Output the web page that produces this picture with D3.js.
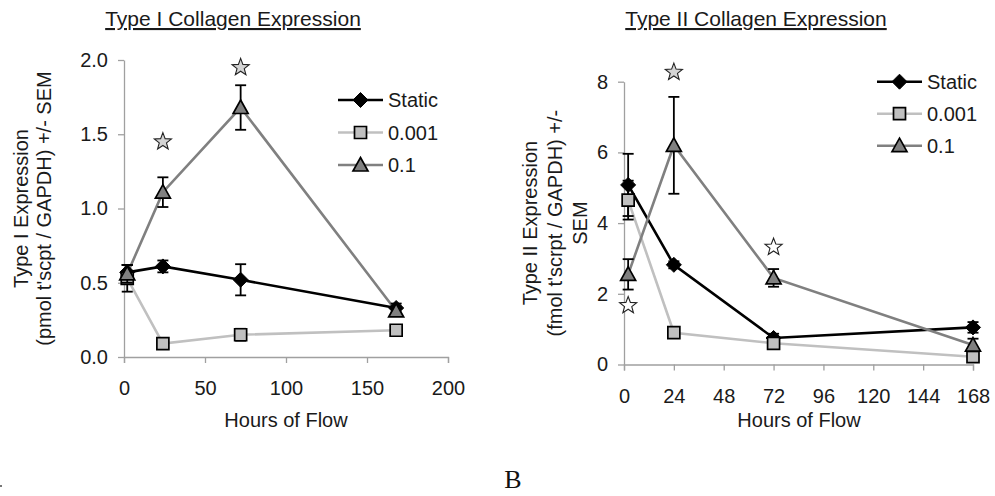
<!DOCTYPE html>
<html>
<head>
<meta charset="utf-8">
<script src="https://cdn.jsdelivr.net/npm/d3@7"></script>
<style>
  body { margin: 0; background: #fff; }
  svg { display: block; font-family: "Liberation Sans", Arial, sans-serif; }
  .axis path, .axis line { stroke: #a0a0a0; stroke-width: 1.3; }
  .axis text { fill: #1a1a1a; font-size: 20px; font-family: "Liberation Sans", Arial, sans-serif; }
</style>
</head>
<body>
<script>
// hours of flow for every series
var hours = [2, 24, 72, 168];
var seriesNames = ["Static", "0.001", "0.1"];

// type I collagen (pmol t'scpt / GAPDH)
var staticI = [0.57, 0.61, 0.52, 0.33];
var staticIErr = [0.05, 0.04, 0.105, 0.03];
var lowI = [0.53, 0.09, 0.15, 0.18];
var lowIErr = [0.09, 0.02, 0.04, 0.03];
var highI = [0.56, 1.11, 1.68, 0.31];
var highIErr = [0.06, 0.10, 0.15, 0.03];
var starsIHours = [24, 72];
var starsIValue = [1.45, 1.95];
var starsIFill = ["#d4d4d4", "#d4d4d4"];

// type II collagen (fmol t'scrpt / GAPDH)
var staticII = [5.08, 2.82, 0.75, 1.05];
var staticIIErr = [0.88, 0.10, 0.12, 0.15];
var lowII = [4.65, 0.90, 0.60, 0.22];
var lowIIErr = [0.55, 0.08, 0.10, 0.08];
var highII = [2.55, 6.20, 2.45, 0.55];
var highIIErr = [0.43, 1.37, 0.25, 0.18];
var starsIIHours = [2, 24, 72];
var starsIIValue = [1.67, 8.27, 3.32];
var starsIIFill = ["#ffffff", "#d4d4d4", "#ffffff"];

var xTicksI = [0, 50, 100, 150, 200];
var yTicksI = [0, 0.5, 1.0, 1.5, 2.0];
var xTicksII = [0, 24, 48, 72, 96, 120, 144, 168];
var yTicksII = [0, 2, 4, 6, 8];

var lineColors = ["#000000", "#c0c0c0", "#808080"];
var markerFills = ["#000000", "#c0c0c0", "#808080"];

var svg = d3.select("body").append("svg")
    .attr("width", 995)
    .attr("height", 496);

// marker shapes drawn round (0,0)
function markerPath(i) {
    if (i == 0) return "M0,-7.5L7.5,0L0,7.5L-7.5,0Z";
    if (i == 1) return "M-6,-6H6V6H-6Z";
    return "M0,-7.5L7.5,6H-7.5Z";
}

function starPath(ro, ri) {
    var p = [];
    for (var k = 0; k < 10; k++) {
        var r = k % 2 == 0 ? ro : ri;
        var a = -Math.PI / 2 + k * Math.PI / 5;
        p.push([r * Math.cos(a), r * Math.sin(a)]);
    }
    return "M" + p.join("L") + "Z";
}

function drawPanel(opt) {
    var x = d3.scaleLinear().domain(opt.xDomain).range(opt.xRange);
    var y = d3.scaleLinear().domain(opt.yDomain).range(opt.yRange);
    var g = svg.append("g");

    // title with underline
    g.append("text")
        .attr("x", opt.titleX)
        .attr("y", 26)
        .attr("text-anchor", "middle")
        .style("font-size", "21px")
        .style("fill", "#1a1a1a")
        .style("text-decoration", "underline")
        .text(opt.title);

    // axes
    g.append("g")
        .attr("class", "axis")
        .attr("transform", "translate(0," + opt.yRange[0] + ")")
        .call(d3.axisBottom(x).tickValues(opt.xTicks).tickSize(6).tickSizeOuter(6).tickPadding(18));
    g.append("g")
        .attr("class", "axis")
        .attr("transform", "translate(" + opt.xRange[0] + ",0)")
        .call(d3.axisLeft(y).tickValues(opt.yTicks).tickFormat(opt.yFormat).tickSize(6).tickSizeOuter(0).tickPadding(10));

    // x axis title
    g.append("text")
        .attr("x", opt.xTitleX)
        .attr("y", 426.5)
        .attr("text-anchor", "middle")
        .style("font-size", "20px")
        .style("fill", "#1a1a1a")
        .text("Hours of Flow");

    // y axis title lines
    var cy = (opt.yRange[0] + opt.yRange[1]) / 2;
    opt.yTitle.forEach(function(t, i) {
        g.append("text")
            .attr("transform", "translate(" + (opt.yTitleX + i * opt.yTitleGap) + "," + cy + ") rotate(-90)")
            .attr("text-anchor", "middle")
            .style("font-size", "20px")
            .style("fill", "#1a1a1a")
            .text(t);
    });

    var line = d3.line()
        .x(function(d, i) { return x(hours[i]); })
        .y(function(d) { return y(d); });

    opt.series.forEach(function(vals, s) {
        g.append("path")
            .datum(vals)
            .attr("fill", "none")
            .attr("stroke", lineColors[s])
            .attr("stroke-width", 2.6)
            .attr("d", line);
    });

    opt.series.forEach(function(vals, s) {
        var errs = opt.errors[s];
        var eb = g.selectAll(null)
            .data(vals)
            .enter().append("g")
            .attr("stroke", "#000")
            .attr("stroke-width", 1.8);
        eb.append("line")
            .attr("x1", function(d, i) { return x(hours[i]); })
            .attr("x2", function(d, i) { return x(hours[i]); })
            .attr("y1", function(d, i) { return y(d - errs[i]); })
            .attr("y2", function(d, i) { return y(d + errs[i]); });
        [-1, 1].forEach(function(sign) {
            eb.append("line")
                .attr("x1", function(d, i) { return x(hours[i]) - 5.5; })
                .attr("x2", function(d, i) { return x(hours[i]) + 5.5; })
                .attr("y1", function(d, i) { return y(d + sign * errs[i]); })
                .attr("y2", function(d, i) { return y(d + sign * errs[i]); });
        });
        g.selectAll(null)
            .data(vals)
            .enter().append("path")
            .attr("transform", function(d, i) { return "translate(" + x(hours[i]) + "," + y(d) + ")"; })
            .attr("d", markerPath(s))
            .attr("fill", markerFills[s])
            .attr("stroke", "#000")
            .attr("stroke-width", s == 0 ? 1 : 1.7);
    });

    // significance stars
    g.selectAll(null)
        .data(opt.starValues)
        .enter().append("path")
        .attr("transform", function(d, i) { return "translate(" + x(opt.starHours[i]) + "," + y(d) + ")"; })
        .attr("d", starPath(9, 3.8))
        .attr("fill", function(d, i) { return opt.starFills[i]; })
        .attr("stroke", "#222")
        .attr("stroke-width", 1.1);

    // legend
    seriesNames.forEach(function(name, s) {
        var ly = opt.legendY + s * opt.legendGap;
        g.append("line")
            .attr("x1", opt.legendX)
            .attr("x2", opt.legendX + 45)
            .attr("y1", ly)
            .attr("y2", ly)
            .attr("stroke", lineColors[s])
            .attr("stroke-width", 2.6);
        g.append("path")
            .attr("transform", "translate(" + (opt.legendX + 22.5) + "," + ly + ")")
            .attr("d", markerPath(s))
            .attr("fill", markerFills[s])
            .attr("stroke", "#000")
            .attr("stroke-width", s == 0 ? 1 : 1.7);
        g.append("text")
            .attr("x", opt.legendX + 50)
            .attr("y", ly)
            .attr("dy", "0.35em")
            .style("font-size", "20px")
            .style("fill", "#1a1a1a")
            .text(name);
    });
}

drawPanel({
    title: "Type I Collagen Expression",
    titleX: 233,
    xDomain: [0, 200], xRange: [124, 448],
    yDomain: [0, 2], yRange: [357, 60],
    xTicks: xTicksI, yTicks: yTicksI, yFormat: d3.format(".1f"),
    xTitleX: 286,
    yTitle: ["Type I Expression", "(pmol t'scpt / GAPDH) +/- SEM"],
    yTitleX: 28, yTitleGap: 23,
    series: [staticI, lowI, highI],
    errors: [staticIErr, lowIErr, highIErr],
    starHours: starsIHours, starValues: starsIValue, starFills: starsIFill,
    legendX: 338, legendY: 100, legendGap: 32.5
});

drawPanel({
    title: "Type II Collagen Expression",
    titleX: 756,
    xDomain: [0, 168], xRange: [624, 973],
    yDomain: [0, 8], yRange: [364.5, 81.7],
    xTicks: xTicksII, yTicks: yTicksII, yFormat: d3.format("d"),
    xTitleX: 799,
    yTitle: ["Type II Expression", "(fmol t'scrpt / GAPDH) +/-", "SEM"],
    yTitleX: 537, yTitleGap: 25,
    series: [staticII, lowII, highII],
    errors: [staticIIErr, lowIIErr, highIIErr],
    starHours: starsIIHours, starValues: starsIIValue, starFills: starsIIFill,
    legendX: 877, legendY: 81.7, legendGap: 32
});

// panel letter and the cut-off mark at the lower left
svg.append("text")
    .attr("x", 513)
    .attr("y", 488)
    .attr("text-anchor", "middle")
    .style("font-family", "'Liberation Serif', 'Times New Roman', serif")
    .style("font-size", "26px")
    .style("fill", "#111")
    .text("B");
svg.append("rect")
    .attr("x", 0)
    .attr("y", 485)
    .attr("width", 2)
    .attr("height", 2)
    .attr("fill", "#777");
</script>
</body>
</html>
